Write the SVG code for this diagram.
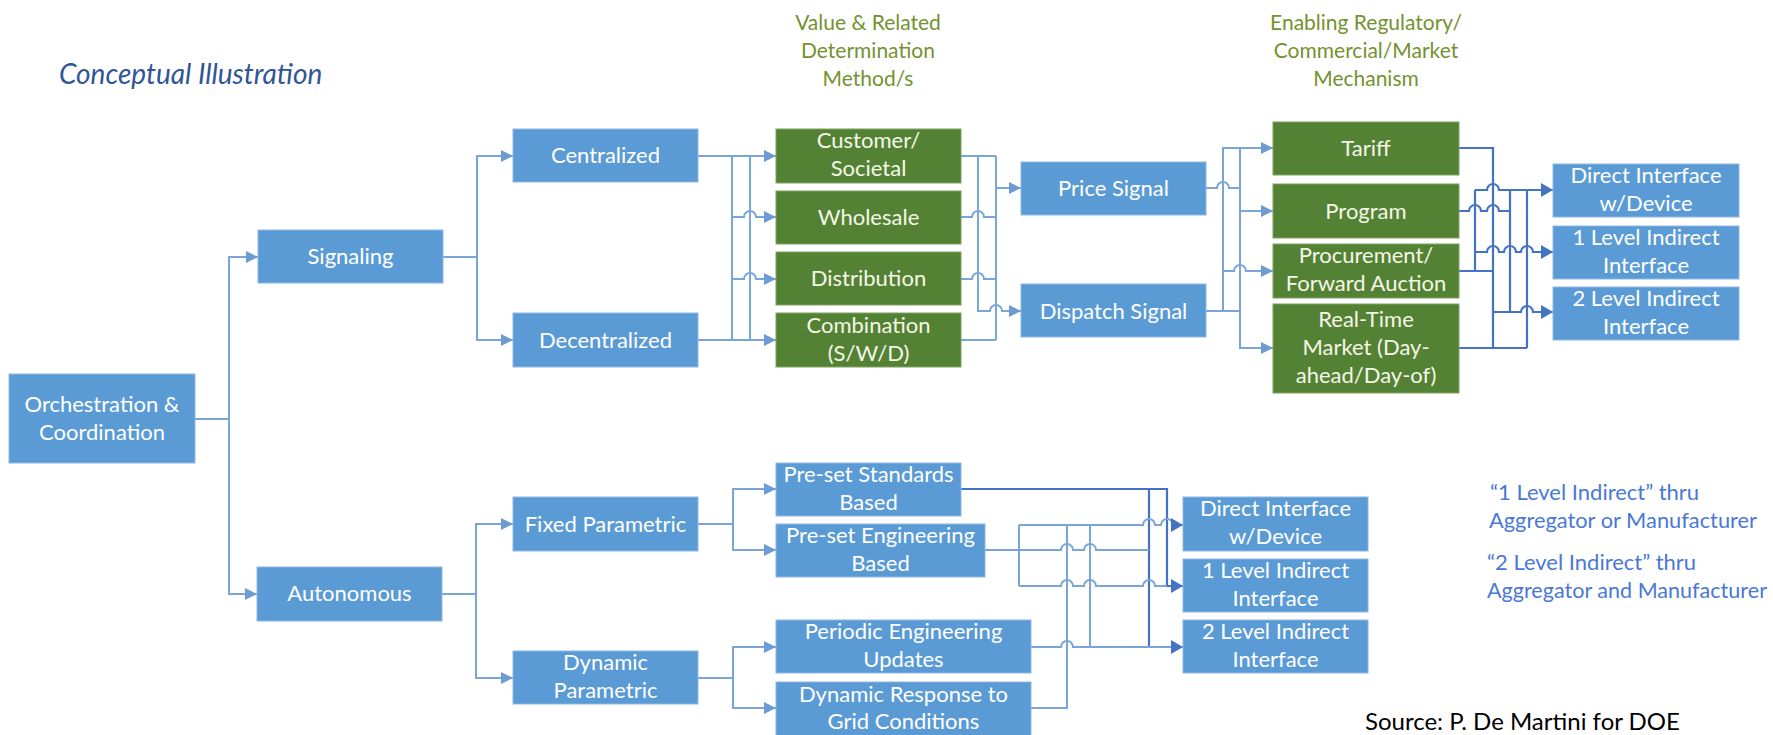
<svg xmlns="http://www.w3.org/2000/svg" width="1773" height="735" viewBox="0 0 1773 735">
  <style>
    text { font-family: Lato, "Liberation Sans", sans-serif; }
    .box { fill: #5B9BD5; stroke: #8DB8E4; stroke-width: 1; }
    .gbox { fill: #548235; stroke: #7FA163; stroke-width: 1; }
    .t { fill: #FFFFFF; font-size: 22px; text-anchor: middle; }
    .gt { fill: #F4F7E8; font-size: 22px; text-anchor: middle; }
    .hdr { fill: #74922F; font-size: 21px; text-anchor: middle; }
    .lc { fill: none; stroke: #7AA5DA; stroke-width: 2; }
    .dc { fill: none; stroke: #4472C4; stroke-width: 2.2; }
    .note { fill: #4A78D6; font-size: 22px; }
  </style>
  <defs>
    <marker id="al" markerUnits="userSpaceOnUse" markerWidth="13" markerHeight="12" refX="12" refY="6" orient="auto-start-reverse">
      <path d="M0 0 L12 6 L0 12 Z" fill="#6D9BD3"/>
    </marker>
    <marker id="ad" markerUnits="userSpaceOnUse" markerWidth="13" markerHeight="14" refX="12" refY="7" orient="auto-start-reverse">
      <path d="M0 0 L12 7 L0 14 Z" fill="#4472C4"/>
    </marker>
  </defs>

  <!-- captions -->
  <text x="59" y="84" font-size="28" font-style="italic" fill="#2F5597">Conceptual Illustration</text>
  <g id="hdr-value">
    <text class="hdr" x="868" y="30">Value &amp; Related</text>
    <text class="hdr" x="868" y="58">Determination</text>
    <text class="hdr" x="868" y="86">Method/s</text>
  </g>
  <g id="hdr-mechanism">
    <text class="hdr" x="1366" y="30">Enabling Regulatory/</text>
    <text class="hdr" x="1366" y="58">Commercial/Market</text>
    <text class="hdr" x="1366" y="86">Mechanism</text>
  </g>

  <!-- connectors -->
  <g id="connectors">
    <!-- tree on the left -->
    <path class="lc" d="M195 419 H229"/>
    <path class="lc" d="M258 257 H229 V594 H257" marker-start="url(#al)" marker-end="url(#al)"/>
    <path class="lc" d="M443 257 H477"/>
    <path class="lc" d="M513 156 H477 V340 H513" marker-start="url(#al)" marker-end="url(#al)"/>
    <path class="lc" d="M442 594 H476"/>
    <path class="lc" d="M513 524 H476 V678 H513" marker-start="url(#al)" marker-end="url(#al)"/>
    <path class="lc" d="M698 524 H733"/>
    <path class="lc" d="M776 489 H733 V550 H776" marker-start="url(#al)" marker-end="url(#al)"/>
    <path class="lc" d="M698 678 H733"/>
    <path class="lc" d="M776 647 H733 V708 H776" marker-start="url(#al)" marker-end="url(#al)"/>

    <!-- into value methods -->
    <path class="lc" d="M698 156 H776" marker-end="url(#al)"/>
    <path class="lc" d="M698 340 H776" marker-end="url(#al)"/>
    <path class="lc" d="M732 156 V340"/>
    <path class="lc" d="M750 156 V340"/>
    <path class="lc" d="M732 217 H744 a6 6 0 0 1 12 0 H776" marker-end="url(#al)"/>
    <path class="lc" d="M732 279 H744 a6 6 0 0 1 12 0 H776" marker-end="url(#al)"/>

    <!-- value methods to signals -->
    <path class="lc" d="M961 156 H996"/>
    <path class="lc" d="M961 217 H972 a6 6 0 0 1 12 0 H996"/>
    <path class="lc" d="M961 279 H972 a6 6 0 0 1 12 0 H996"/>
    <path class="lc" d="M961 340 H996"/>
    <path class="lc" d="M996 156 V340"/>
    <path class="lc" d="M978 156 V311 H990 a6 6 0 0 1 12 0 H1021" marker-end="url(#al)"/>
    <path class="lc" d="M996 188 H1021" marker-end="url(#al)"/>

    <!-- signals to mechanisms -->
    <path class="lc" d="M1206 188 H1217 a6 6 0 0 1 12 0 H1240"/>
    <path class="lc" d="M1206 311 H1240"/>
    <path class="lc" d="M1273 148 H1223 V311" marker-start="url(#al)"/>
    <path class="lc" d="M1223 271 H1234 a6 6 0 0 1 12 0 H1273" marker-end="url(#al)"/>
    <path class="lc" d="M1240 148 V348 H1273" marker-end="url(#al)"/>
    <path class="lc" d="M1240 211 H1273" marker-end="url(#al)"/>

    <!-- mechanisms to interfaces -->
    <path class="dc" d="M1459 148 H1493 V348"/>
    <path class="dc" d="M1459 211 H1469 a6 6 0 0 1 12 0 H1487 a6 6 0 0 1 12 0 H1510"/>
    <path class="dc" d="M1459 271 H1493"/>
    <path class="dc" d="M1459 348 H1527"/>
    <path class="dc" d="M1475 190 V271"/>
    <path class="dc" d="M1510 190 V312"/>
    <path class="dc" d="M1527 190 V348"/>
    <path class="dc" d="M1475 190 H1487 a6 6 0 0 1 12 0 H1553" marker-end="url(#ad)"/>
    <path class="dc" d="M1475 252 H1487 a6 6 0 0 1 12 0 H1504 a6 6 0 0 1 12 0 H1521 a6 6 0 0 1 12 0 H1553" marker-end="url(#ad)"/>
    <path class="dc" d="M1493 312 H1521 a6 6 0 0 1 12 0 H1553" marker-end="url(#ad)"/>

    <!-- parametric methods to interfaces -->
    <path class="dc" d="M961 489 H1167 V586 H1183" marker-end="url(#ad)"/>
    <path class="dc" d="M1149 489 V647"/>
    <path class="lc" d="M1019 525 H1143 a6 6 0 0 1 12 0 H1161 a6 6 0 0 1 12 0 H1183" marker-end="url(#ad)"/>
    <path class="lc" d="M1019 525 V586"/>
    <path class="lc" d="M985 550 H1061 a6 6 0 0 1 12 0 H1084 a6 6 0 0 1 12 0 H1149"/>
    <path class="lc" d="M1019 586 H1061 a6 6 0 0 1 12 0 H1084 a6 6 0 0 1 12 0 H1143 a6 6 0 0 1 12 0 H1167"/>
    <path class="lc" d="M1031 647 H1061 a6 6 0 0 1 12 0 H1183" marker-end="url(#ad)"/>
    <path class="lc" d="M1090 525 V647"/>
    <path class="lc" d="M1031 708 H1067 V525"/>
  </g>

  <!-- left tree -->
  <g id="orchestration">
    <rect class="box" x="9" y="374" width="186" height="89"/>
    <text class="t" x="102" y="412">Orchestration &amp;</text>
    <text class="t" x="102" y="440">Coordination</text>
  </g>
  <g id="signaling">
    <rect class="box" x="258" y="230" width="185" height="53"/>
    <text class="t" x="350.5" y="264">Signaling</text>
  </g>
  <g id="autonomous">
    <rect class="box" x="257" y="567" width="185" height="54"/>
    <text class="t" x="349.5" y="601">Autonomous</text>
  </g>
  <g id="centralized">
    <rect class="box" x="513" y="129" width="185" height="53"/>
    <text class="t" x="605.5" y="163">Centralized</text>
  </g>
  <g id="decentralized">
    <rect class="box" x="513" y="313" width="185" height="54"/>
    <text class="t" x="605.5" y="348">Decentralized</text>
  </g>
  <g id="fixed-parametric">
    <rect class="box" x="513" y="497" width="185" height="54"/>
    <text class="t" x="605.5" y="532">Fixed Parametric</text>
  </g>
  <g id="dynamic-parametric">
    <rect class="box" x="513" y="651" width="185" height="53"/>
    <text class="t" x="605.5" y="670">Dynamic</text>
    <text class="t" x="605.5" y="698">Parametric</text>
  </g>

  <!-- value determination methods -->
  <g id="customer-societal">
    <rect class="gbox" x="776" y="129" width="185" height="54"/>
    <text class="gt" x="868.5" y="148">Customer/</text>
    <text class="gt" x="868.5" y="176">Societal</text>
  </g>
  <g id="wholesale">
    <rect class="gbox" x="776" y="191" width="185" height="53"/>
    <text class="gt" x="868.5" y="225">Wholesale</text>
  </g>
  <g id="distribution">
    <rect class="gbox" x="776" y="252" width="185" height="53"/>
    <text class="gt" x="868.5" y="286">Distribution</text>
  </g>
  <g id="combination">
    <rect class="gbox" x="776" y="313" width="185" height="54"/>
    <text class="gt" x="868.5" y="333">Combination</text>
    <text class="gt" x="868.5" y="361">(S/W/D)</text>
  </g>

  <!-- signals -->
  <g id="price-signal">
    <rect class="box" x="1021" y="162" width="185" height="53"/>
    <text class="t" x="1113.5" y="196">Price Signal</text>
  </g>
  <g id="dispatch-signal">
    <rect class="box" x="1021" y="284" width="185" height="53"/>
    <text class="t" x="1113.5" y="319">Dispatch Signal</text>
  </g>

  <!-- mechanisms -->
  <g id="tariff">
    <rect class="gbox" x="1273" y="122" width="186" height="53"/>
    <text class="gt" x="1366" y="156">Tariff</text>
  </g>
  <g id="program">
    <rect class="gbox" x="1273" y="184" width="186" height="54"/>
    <text class="gt" x="1366" y="219">Program</text>
  </g>
  <g id="procurement">
    <rect class="gbox" x="1273" y="244" width="186" height="54"/>
    <text class="gt" x="1366" y="263">Procurement/</text>
    <text class="gt" x="1366" y="291">Forward Auction</text>
  </g>
  <g id="real-time-market">
    <rect class="gbox" x="1273" y="304" width="186" height="89"/>
    <text class="gt" x="1366" y="327">Real-Time</text>
    <text class="gt" x="1366" y="355">Market (Day-</text>
    <text class="gt" x="1366" y="383">ahead/Day-of)</text>
  </g>

  <!-- interfaces, signaling branch -->
  <g id="direct-interface-1">
    <rect class="box" x="1553" y="164" width="186" height="53"/>
    <text class="t" x="1646" y="183">Direct Interface</text>
    <text class="t" x="1646" y="211">w/Device</text>
  </g>
  <g id="one-level-1">
    <rect class="box" x="1553" y="226" width="186" height="53"/>
    <text class="t" x="1646" y="245">1 Level Indirect</text>
    <text class="t" x="1646" y="273">Interface</text>
  </g>
  <g id="two-level-1">
    <rect class="box" x="1553" y="287" width="186" height="53"/>
    <text class="t" x="1646" y="306">2 Level Indirect</text>
    <text class="t" x="1646" y="334">Interface</text>
  </g>

  <!-- parametric methods -->
  <g id="preset-standards">
    <rect class="box" x="776" y="463" width="185" height="53"/>
    <text class="t" x="868.5" y="482">Pre-set Standards</text>
    <text class="t" x="868.5" y="510">Based</text>
  </g>
  <g id="preset-engineering">
    <rect class="box" x="776" y="524" width="209" height="53"/>
    <text class="t" x="880.5" y="543">Pre-set Engineering</text>
    <text class="t" x="880.5" y="571">Based</text>
  </g>
  <g id="periodic-engineering">
    <rect class="box" x="776" y="620" width="255" height="53"/>
    <text class="t" x="903.5" y="639">Periodic Engineering</text>
    <text class="t" x="903.5" y="667">Updates</text>
  </g>
  <g id="dynamic-response">
    <rect class="box" x="776" y="682" width="255" height="58"/>
    <text class="t" x="903.5" y="702">Dynamic Response to</text>
    <text class="t" x="903.5" y="729">Grid Conditions</text>
  </g>

  <!-- interfaces, autonomous branch -->
  <g id="direct-interface-2">
    <rect class="box" x="1183" y="497" width="185" height="54"/>
    <text class="t" x="1275.5" y="516">Direct Interface</text>
    <text class="t" x="1275.5" y="544">w/Device</text>
  </g>
  <g id="one-level-2">
    <rect class="box" x="1183" y="559" width="185" height="53"/>
    <text class="t" x="1275.5" y="578">1 Level Indirect</text>
    <text class="t" x="1275.5" y="606">Interface</text>
  </g>
  <g id="two-level-2">
    <rect class="box" x="1183" y="620" width="185" height="53"/>
    <text class="t" x="1275.5" y="639">2 Level Indirect</text>
    <text class="t" x="1275.5" y="667">Interface</text>
  </g>

  <!-- notes -->
  <g id="notes">
    <text class="note" x="1490" y="500">“1 Level Indirect” thru</text>
    <text class="note" x="1489" y="528" textLength="268" lengthAdjust="spacingAndGlyphs">Aggregator or Manufacturer</text>
    <text class="note" x="1487" y="570">“2 Level Indirect” thru</text>
    <text class="note" x="1487" y="598" textLength="280" lengthAdjust="spacingAndGlyphs">Aggregator and Manufacturer</text>
  </g>
  <text x="1365" y="730" font-size="24" fill="#000000">Source: P. De Martini for DOE</text>
</svg>
